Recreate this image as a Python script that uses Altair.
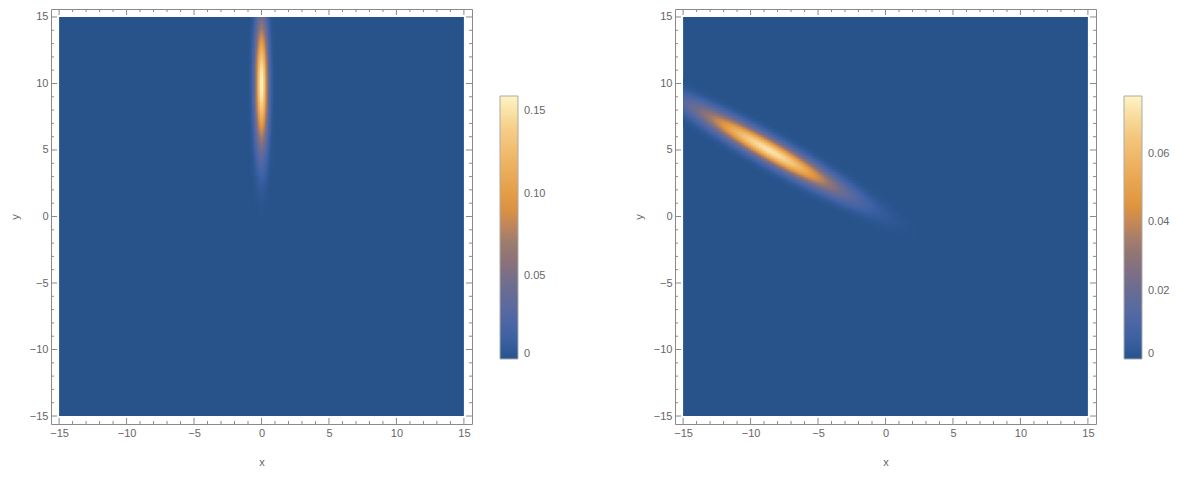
import numpy as np
import pandas as pd
import altair as alt

# ---------------- values ----------------
axis_range = [-15, 15]
frame_pad = 0.6
major_ticks = [-15, -10, -5, 0, 5, 10, 15]
minor_ticks = [v for v in range(-15, 16) if v % 5 != 0]

# Gaussian densities (mean, sd along major axis, sd along minor axis, major-axis angle in degrees)
left_mean = [0.0, 10.0]
left_sd = [3.16, 0.316]
left_angle = 90.0
right_mean = [-8.66, 5.0]
right_sd = [4.0, 0.55]
right_angle = 150.0

left_cbar_max = 0.159
right_cbar_max = 0.0768
left_legend_values = [0, 0.05, 0.10, 0.15]
right_legend_values = [0, 0.02, 0.04, 0.06]

# colour gradient (fraction of the colour-bar range -> colour)
grad_pos = [0.0, 0.08, 0.2, 0.3, 0.42, 0.58, 0.72, 0.87, 1.0]
grad_col = ["#27538a", "#3d62a6", "#5a6aa0", "#6f6f8a", "#8d7a72", "#df943c",
            "#ecae5c", "#f6cc86", "#fff3c4"]

FRAME = "#8a8a8a"
TEXT = "#666666"
FONT = "Liberation Sans"
W, H = 421, 415
step = 0.12
overlap = 1.6  # cells drawn slightly larger than the grid step to hide seams


def density(X, Y, mean, sd, ang):
    t = np.radians(ang)
    dx, dy = X - mean[0], Y - mean[1]
    u = dx * np.cos(t) + dy * np.sin(t)
    v = -dx * np.sin(t) + dy * np.cos(t)
    return np.exp(-0.5 * (u ** 2 / sd[0] ** 2 + v ** 2 / sd[1] ** 2)) / (2 * np.pi * sd[0] * sd[1])


def grid_frame(mean, sd, ang):
    edges = np.arange(axis_range[0], axis_range[1] - 1e-9, step)
    X0, Y0 = np.meshgrid(edges, edges)
    val = density(X0 + step / 2, Y0 + step / 2, mean, sd, ang)
    keep = val > 0.003 * val.max()
    x0, y0 = X0[keep], Y0[keep]
    cells = pd.DataFrame({
        "x0": x0, "x1": np.minimum(x0 + step * overlap, axis_range[1]),
        "y0": y0, "y1": np.minimum(y0 + step * overlap, axis_range[1]),
        "val": val[keep]})
    bg = pd.DataFrame({"x0": [axis_range[0]], "x1": [axis_range[1]], "y0": [axis_range[0]],
                       "y1": [axis_range[1]], "val": [0.0]})
    return pd.concat([bg, cells], ignore_index=True)


def panel(mean, sd, ang, cmax, legend_vals):
    df = grid_frame(mean, sd, ang)
    dom = [axis_range[0] - frame_pad, axis_range[1] + frame_pad]
    xs = alt.Scale(domain=dom, nice=False, zero=False)
    ys = alt.Scale(domain=dom, nice=False, zero=False)
    cscale = alt.Scale(domain=[p * cmax for p in grad_pos], range=grad_col, clamp=True)
    axis_common = dict(values=major_ticks, ticks=False, domain=False, grid=False,
                       labelFontSize=11, labelColor=TEXT, labelFont=FONT, labelFlush=False,
                       labelOverlap=False, titleFontSize=11, titleColor=TEXT, titleFont=FONT,
                       titleFontWeight="normal")
    xaxis = alt.Axis(title="x", labelPadding=3, titlePadding=18, **axis_common)
    yaxis = alt.Axis(title="y", labelPadding=3, titlePadding=9, **axis_common)
    heat = alt.Chart(df).mark_rect().encode(
        x=alt.X("x0:Q", scale=xs, axis=xaxis),
        x2="x1",
        y=alt.Y("y0:Q", scale=ys, axis=yaxis),
        y2="y1",
        color=alt.Color("val:Q", scale=cscale, legend=alt.Legend(
            type="gradient", values=legend_vals, orient="none", legendX=449, legendY=87,
            direction="vertical", gradientLength=263, gradientThickness=18, title=None,
            labelExpr="datum.value == 0 ? '0' : format(datum.value, '.2f')",
            labelFontSize=11, labelColor=TEXT, labelFont=FONT, labelOffset=6,
            gradientStrokeColor="#aaaaaa", gradientStrokeWidth=1)),
    )
    maj = pd.DataFrame({"t": major_ticks})
    mnr = pd.DataFrame({"t": minor_ticks})
    layers = [heat]
    for data, ln in ((maj, 6), (mnr, 3)):
        base = alt.Chart(data).mark_rule(color=FRAME, strokeWidth=1)
        layers.append(base.encode(x=alt.X("t:Q", scale=xs, axis=xaxis), y=alt.value(H), y2=alt.value(H - ln)))
        layers.append(base.encode(x=alt.X("t:Q", scale=xs, axis=xaxis), y=alt.value(0), y2=alt.value(ln)))
        layers.append(base.encode(y=alt.Y("t:Q", scale=ys, axis=yaxis), x=alt.value(0), x2=alt.value(ln)))
        layers.append(base.encode(y=alt.Y("t:Q", scale=ys, axis=yaxis), x=alt.value(W), x2=alt.value(W - ln)))
    return alt.layer(*layers).properties(width=W, height=H)


left = panel(left_mean, left_sd, left_angle, left_cbar_max, left_legend_values)
right = panel(right_mean, right_sd, right_angle, right_cbar_max, right_legend_values)

chart = alt.hconcat(left, right, spacing=85).resolve_scale(
    color="independent"
).properties(padding={"left": 0, "top": 0, "right": 0, "bottom": 0}).configure_view(
    stroke=FRAME, strokeWidth=1
)

chart.save("out.html", embed_options={"renderer": "svg", "actions": False})
